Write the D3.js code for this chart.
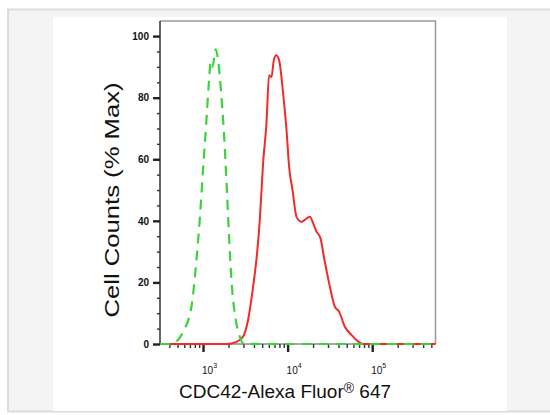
<!DOCTYPE html>
<html>
<head>
<meta charset="utf-8">
<script src="https://cdnjs.cloudflare.com/ajax/libs/d3/7.8.5/d3.min.js"></script>
<style>
  html, body { margin: 0; padding: 0; background: #fff; }
  svg { display: block; }
  text { font-family: "Liberation Sans", Arial, sans-serif; fill: #111; }
</style>
</head>
<body>
<div id="viz"></div>
<script>
// isotype control (green dashed) and CDC42 stained (red) histograms
const controlX = [310, 404, 506, 580, 729, 836, 914, 1000, 1097, 1178, 1233, 1292, 1413, 1506, 1651, 1807, 1923, 2032, 2168, 2438, 2718, 2972, 5000, 20000, 100000, 560000];
const controlY = [0, 0, 1.3, 4, 12.1, 27.3, 40.3, 56.5, 72.7, 85.7, 91.7, 90, 95.7, 92.2, 80.3, 64, 48.9, 34.8, 20.8, 7.8, 2.4, 0.2, 0, 0, 0, 0];

const stainedX = [310, 1923, 2483, 2972, 3409, 3908, 4355, 4690, 5129, 5623, 6039, 6442, 6871, 7311, 7925, 8851, 9705, 10420, 11430, 12740, 14590, 15990, 18320, 20050, 21980, 24500, 26800, 30970, 36200, 40640, 47500, 57000, 68200, 78200, 560000];
const stainedY = [0, 0, 0.7, 2.4, 7.8, 18.6, 29.5, 40.3, 58.7, 71.7, 87.3, 86.7, 92.2, 93.8, 92.2, 81.4, 69.5, 57.5, 50, 41.3, 39.7, 40.3, 41.3, 39.2, 36.5, 34.3, 28.4, 19.7, 12.1, 10.5, 5.6, 2.9, 0.8, 0, 0];

const xMajor = [1e3, 1e4, 1e5];
const xMajorExp = ['3', '4', '5'];
const xMinor = [400, 500, 600, 700, 800, 900, 2000, 3000, 4000, 5000, 6000, 7000, 8000, 9000,
                20000, 30000, 40000, 50000, 60000, 70000, 80000, 90000, 200000, 300000, 400000, 500000];
const yMajor = [0, 20, 40, 60, 80, 100];
const yMinor = [5, 10, 15, 25, 30, 35, 45, 50, 55, 65, 70, 75, 85, 90, 95];

const xTitle = 'CDC42-Alexa Fluor';
const xTitleSup = '®';
const xTitleEnd = ' 647';
const yTitle = 'Cell Counts (% Max)';

const W = 550, H = 415;
const plot = { left: 160, right: 435.5, top: 21, bottom: 344 };
const narrow = '"Liberation Sans Narrow", "Arial Narrow", "Liberation Sans", sans-serif';

const svg = d3.select('#viz').append('svg')
    .attr('width', W)
    .attr('height', H);

// page frame
svg.append('rect')
    .attr('x', 8).attr('y', 9.5)
    .attr('width', 560).attr('height', 402)
    .attr('fill', '#f4f4f4')
    .attr('stroke', '#dcdcdc')
    .attr('stroke-width', 2);

svg.append('rect')
    .attr('x', 53).attr('y', 17)
    .attr('width', 454).attr('height', 394)
    .attr('fill', '#fff');

const x = d3.scaleLog()
    .domain([310, 560000])
    .range([plot.left, plot.right]);

const y = d3.scaleLinear()
    .domain([0, 104.9])
    .range([plot.bottom, plot.top]);

// plot frame (top/right)
svg.append('path')
    .attr('d', `M${plot.left},${plot.top}H${plot.right}V${plot.bottom}`)
    .attr('fill', 'none')
    .attr('stroke', '#999')
    .attr('stroke-width', 1.5);

// axis lines
svg.append('line')
    .attr('x1', plot.left).attr('x2', plot.left)
    .attr('y1', plot.top).attr('y2', plot.bottom)
    .attr('stroke', '#333').attr('stroke-width', 1.5);
svg.append('line')
    .attr('x1', plot.left).attr('x2', plot.right)
    .attr('y1', plot.bottom).attr('y2', plot.bottom)
    .attr('stroke', '#555').attr('stroke-width', 1.2);

// y axis
const yAxisMajor = svg.append('g')
    .attr('transform', `translate(${plot.left},0)`)
    .call(d3.axisLeft(y).tickValues(yMajor).tickSize(7).tickPadding(4));
yAxisMajor.select('.domain').remove();
yAxisMajor.selectAll('.tick line').attr('stroke', '#222').attr('stroke-width', 2.4);
yAxisMajor.selectAll('.tick text')
    .attr('font-size', 10)
    .attr('font-weight', 'bold')
    .attr('font-family', narrow)
    .attr('fill', '#333');

const yAxisMinor = svg.append('g')
    .attr('transform', `translate(${plot.left},0)`)
    .call(d3.axisLeft(y).tickValues(yMinor).tickSize(3).tickFormat(''));
yAxisMinor.select('.domain').remove();
yAxisMinor.selectAll('.tick line').attr('stroke', '#333').attr('stroke-width', 1.4);

// x axis
const xAxisMajor = svg.append('g')
    .attr('transform', `translate(0,${plot.bottom})`)
    .call(d3.axisBottom(x).tickValues(xMajor).tickSize(8).tickFormat(''));
xAxisMajor.select('.domain').remove();
xAxisMajor.selectAll('.tick line').attr('stroke', '#222').attr('stroke-width', 2.4);

const xAxisMinor = svg.append('g')
    .attr('transform', `translate(0,${plot.bottom})`)
    .call(d3.axisBottom(x).tickValues(xMinor).tickSize(4).tickFormat(''));
xAxisMinor.select('.domain').remove();
xAxisMinor.selectAll('.tick line').attr('stroke', '#333').attr('stroke-width', 1.4);

const xLabels = svg.append('g')
    .selectAll('text')
    .data(d3.zip(xMajor, xMajorExp))
    .join('text')
    .attr('x', d => x(d[0]) - 1)
    .attr('y', 374)
    .attr('font-size', 10)
    .attr('font-family', narrow)
    .attr('fill', '#333');
xLabels.append('tspan').text('10');
xLabels.append('tspan').attr('dy', -6).attr('font-size', 7).text(d => d[1]);

// histograms
const line = d3.line()
    .x(d => x(d[0]))
    .y(d => y(d[1]))
    .curve(d3.curveMonotoneX);

svg.append('path')
    .datum(d3.zip(stainedX, stainedY))
    .attr('d', line)
    .attr('fill', 'none')
    .attr('stroke', '#f22a2a')
    .attr('stroke-width', 2);

svg.append('path')
    .datum(d3.zip(controlX, controlY))
    .attr('d', line)
    .attr('fill', 'none')
    .attr('stroke', '#3ad43a')
    .attr('stroke-width', 2.2)
    .attr('stroke-dasharray', '10,7');

// titles
const xt = svg.append('text')
    .attr('x', 179)
    .attr('y', 398)
    .attr('font-size', 19);
xt.append('tspan').text(xTitle);
xt.append('tspan').attr('dy', -5).attr('font-size', 14).text(xTitleSup);
xt.append('tspan').attr('dy', 5).text(xTitleEnd);

svg.append('text')
    .attr('transform', 'translate(119,200) rotate(-90)')
    .attr('text-anchor', 'middle')
    .attr('font-size', 20)
    .attr('textLength', 235)
    .attr('lengthAdjust', 'spacingAndGlyphs')
    .text(yTitle);
</script>
</body>
</html>
